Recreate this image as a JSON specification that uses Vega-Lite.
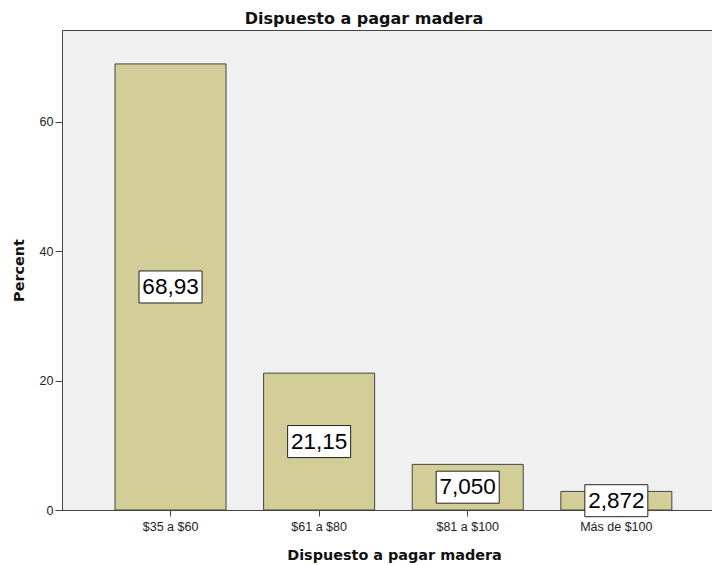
{
  "$schema": "https://vega.github.io/schema/vega-lite/v6.json",
  "width": 650,
  "height": 480,
  "autosize": {"type": "none"},
  "padding": {"left": 62, "top": 30, "right": 0, "bottom": 55},
  "background": "white",
  "title": {
    "text": "Dispuesto a pagar madera",
    "font": "DejaVu Sans",
    "fontSize": 16,
    "fontWeight": "bold",
    "color": "#111111",
    "anchor": "middle",
    "frame": "group",
    "baseline": "alphabetic",
    "offset": 8,
    "dx": -23,
    "dy": 18
  },
  "data": {
    "values": [
      {"categoria": "$35 a $60", "pct": 68.93},
      {"categoria": "$61 a $80", "pct": 21.15},
      {"categoria": "$81 a $100", "pct": 7.050},
      {"categoria": "Más de $100", "pct": 2.872}
    ]
  },
  "encoding": {
    "x": {
      "field": "categoria",
      "type": "nominal",
      "sort": null,
      "scale": {"paddingInner": 0.253, "paddingOuter": 0.3135, "align": 0.569},
      "axis": {
        "title": "Dispuesto a pagar madera",
        "labelAngle": 0,
        "labelFont": "Liberation Sans",
        "labelFontSize": 12.5,
        "labelColor": "#222222",
        "labelPadding": 4,
        "tickSize": 6,
        "tickColor": "#444444",
        "domainColor": "#444444",
        "titleFont": "DejaVu Sans",
        "titleFontSize": 14.4,
        "titleFontWeight": "bold",
        "titleColor": "#111111",
        "titleX": 332,
        "titleY": 49,
        "titleAlign": "center",
        "titleBaseline": "alphabetic"
      }
    }
  },
  "layer": [
    {
      "mark": {"type": "bar", "fill": "#d3ce97", "stroke": "#444444", "strokeWidth": 1},
      "encoding": {
        "y": {
          "field": "pct",
          "type": "quantitative",
          "scale": {"domain": [0, 74.17], "nice": false, "zero": true},
          "axis": {
            "title": "Percent",
            "values": [0, 20, 40, 60],
            "grid": false,
            "labelFont": "Liberation Sans",
            "labelFontSize": 12.5,
            "labelColor": "#222222",
            "labelPadding": 2,
            "tickSize": 7,
            "tickColor": "#444444",
            "domainColor": "#444444",
            "titleFont": "DejaVu Sans",
            "titleFontSize": 14.4,
            "titleFontWeight": "bold",
            "titleColor": "#111111",
            "titleX": -43,
            "titleY": 240,
            "titleAlign": "center",
            "titleBaseline": "middle"
          }
        }
      }
    },
    {
      "mark": {
        "type": "point",
        "shape": "M-1,-0.508H1V0.508H-1Z",
        "size": 3969,
        "filled": true,
        "fill": "white",
        "stroke": "#222222",
        "strokeWidth": 1,
        "opacity": 1
      },
      "encoding": {
        "y": {
          "field": "pct",
          "type": "quantitative",
          "scale": {"domain": [0, 148.34], "nice": false, "zero": true},
          "axis": null
        }
      }
    },
    {
      "mark": {
        "type": "text",
        "font": "Liberation Sans",
        "fontSize": 22.5,
        "color": "#000000",
        "align": "center",
        "baseline": "middle"
      },
      "encoding": {
        "y": {
          "field": "pct",
          "type": "quantitative",
          "scale": {"domain": [0, 148.34], "nice": false, "zero": true},
          "axis": null
        },
        "text": {"field": "pct", "type": "quantitative", "format": ".4r"}
      }
    }
  ],
  "resolve": {"scale": {"y": "independent"}},
  "config": {
    "view": {"fill": "#f0f0f0", "stroke": "#444444", "strokeWidth": 1},
    "locale": {
      "number": {"decimal": ",", "thousands": ".", "grouping": [3], "currency": ["$", ""]}
    }
  }
}
